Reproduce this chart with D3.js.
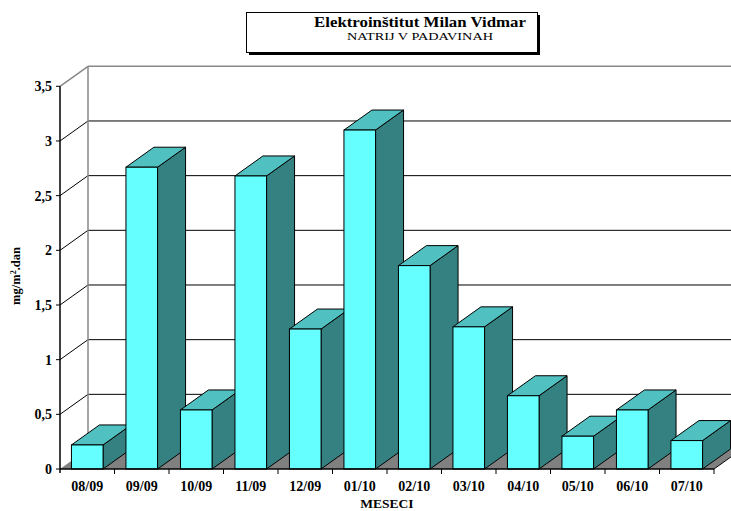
<!DOCTYPE html>
<html>
<head>
<meta charset="utf-8">
<script src="https://cdn.jsdelivr.net/npm/d3@7"></script>
<style>
  body { margin: 0; background: #fff; }
  svg { display: block; font-family: "Liberation Serif", "Times New Roman", serif; }
</style>
</head>
<body>
<svg id="chart" width="731" height="511"></svg>
<script>
// data
const months = ['08/09', '09/09', '10/09', '11/09', '12/09', '01/10', '02/10', '03/10', '04/10', '05/10', '06/10', '07/10']
const natrij = [0.22, 2.76, 0.54, 2.68, 1.28, 3.1, 1.86, 1.3, 0.67, 0.3, 0.54, 0.26]
const yTicks = [0, 0.5, 1, 1.5, 2, 2.5, 3, 3.5]
const titleText = 'Elektroinštitut Milan Vidmar'
const subtitleText = 'NATRIJ V PADAVINAH'

const svg = d3.select('#chart')
const dx = 28, dy = -20 // depth of the 3d box

let x = d3.scaleBand().domain(months).range([60, 714]).paddingInner(0.42).paddingOuter(0.21)
let xOuter = d3.scaleBand().domain(months).range([60, 714])
let y = d3.scaleLinear().domain([0, 3.5]).range([469, 86.3])
let fmt = d => String(d).replace('.', ',')

// walls
let wall = svg.append('g')
let yTop = y(3.5), y0 = y(0)
// back wall grid lines
yTicks.slice(1).forEach(function(t) {
  let top = t === 3.5
  wall.append('line')
    .attr('x1', 60 + dx).attr('x2', 714 + dx + 40)
    .attr('y1', y(t) + dy).attr('y2', y(t) + dy)
    .attr('stroke', top ? '#888' : '#000').attr('stroke-width', top ? 1.5 : 1)
  wall.append('line')
    .attr('x1', 60).attr('x2', 60 + dx)
    .attr('y1', y(t)).attr('y2', y(t) + dy)
    .attr('stroke', top ? '#888' : '#000').attr('stroke-width', top ? 1.5 : 1)
})
// back wall left edge
wall.append('line')
  .attr('x1', 60 + dx).attr('x2', 60 + dx)
  .attr('y1', yTop + dy).attr('y2', y0 + dy)
  .attr('stroke', '#888').attr('stroke-width', 1.5)

// floor
wall.append('path')
  .attr('d', d3.line()([[60, y0], [714, y0], [714 + dx, y0 + dy], [60 + dx, y0 + dy]]) + 'Z')
  .attr('fill', '#808080')
wall.append('line')
  .attr('x1', 714).attr('y1', y0).attr('x2', 714 + dx).attr('y2', y0 + dy)
  .attr('stroke', '#000')

// bars
let bars = svg.append('g')
months.forEach(function(m, i) {
  let x1 = x(m), x2 = x(m) + x.bandwidth(), yt = y(natrij[i])
  let g = bars.append('g')
  g.append('path')
    .attr('d', d3.line()([[x2, yt], [x2 + dx, yt + dy], [x2 + dx, y0 + dy], [x2, y0]]) + 'Z')
    .attr('fill', '#358080').attr('stroke', '#000').attr('stroke-width', 1)
  g.append('path')
    .attr('d', d3.line()([[x1, yt], [x1 + dx, yt + dy], [x2 + dx, yt + dy], [x2, yt]]) + 'Z')
    .attr('fill', '#50c0c0').attr('stroke', '#000').attr('stroke-width', 1)
  g.append('rect')
    .attr('x', x1).attr('y', yt)
    .attr('width', x.bandwidth()).attr('height', y0 - yt)
    .attr('fill', '#66ffff').attr('stroke', '#000').attr('stroke-width', 1)
})

// axes
let axes = svg.append('g')
axes.append('line')
  .attr('x1', 60).attr('x2', 60).attr('y1', yTop).attr('y2', y0 + 4)
  .attr('stroke', '#000').attr('stroke-width', 1.5)
axes.append('line')
  .attr('x1', 60).attr('x2', 714).attr('y1', y0).attr('y2', y0)
  .attr('stroke', '#000').attr('stroke-width', 1.5)
yTicks.forEach(function(t) {
  axes.append('line')
    .attr('x1', 56).attr('x2', 60).attr('y1', y(t)).attr('y2', y(t))
    .attr('stroke', '#000')
  axes.append('text')
    .attr('x', 52).attr('y', y(t) + 5)
    .attr('text-anchor', 'end')
    .style('font-size', '14px').style('font-weight', 'bold')
    .text(fmt(t))
})
months.forEach(function(m) {
  let xe = xOuter(m) + xOuter.bandwidth()
  axes.append('line')
    .attr('x1', xe).attr('x2', xe).attr('y1', y0).attr('y2', y0 + 5)
    .attr('stroke', '#000')
  axes.append('text')
    .attr('x', xOuter(m) + xOuter.bandwidth() / 2).attr('y', 491)
    .attr('text-anchor', 'middle')
    .style('font-size', '14px').style('font-weight', 'bold')
    .text(m)
})

// axis titles
svg.append('text')
  .attr('x', 387).attr('y', 508)
  .attr('text-anchor', 'middle')
  .style('font-size', '13.5px').style('font-weight', 'bold')
  .text('MESECI')
let yl = svg.append('text')
  .attr('transform', 'translate(20,276) rotate(-90)')
  .attr('text-anchor', 'middle')
  .style('font-size', '12.5px').style('font-weight', 'bold')
yl.append('tspan').text('mg/m')
yl.append('tspan').attr('baseline-shift', 'super').style('font-size', '8px').text('2')
yl.append('tspan').text('.dan')

// title box
let tb = svg.append('g')
tb.append('rect').attr('x', 249).attr('y', 15).attr('width', 291).attr('height', 40).attr('fill', '#000')
tb.append('rect').attr('x', 246.5).attr('y', 12.5).attr('width', 291).attr('height', 40)
  .attr('fill', '#fff').attr('stroke', '#000').attr('stroke-width', 1)
tb.append('text')
  .attr('x', 420).attr('y', 26.5)
  .attr('text-anchor', 'middle')
  .attr('textLength', 212).attr('lengthAdjust', 'spacingAndGlyphs')
  .style('font-size', '15px').style('font-weight', 'bold')
  .text(titleText)
tb.append('text')
  .attr('x', 420).attr('y', 40)
  .attr('text-anchor', 'middle')
  .attr('textLength', 146).attr('lengthAdjust', 'spacingAndGlyphs')
  .style('font-size', '11px')
  .text(subtitleText)
</script>
</body>
</html>
